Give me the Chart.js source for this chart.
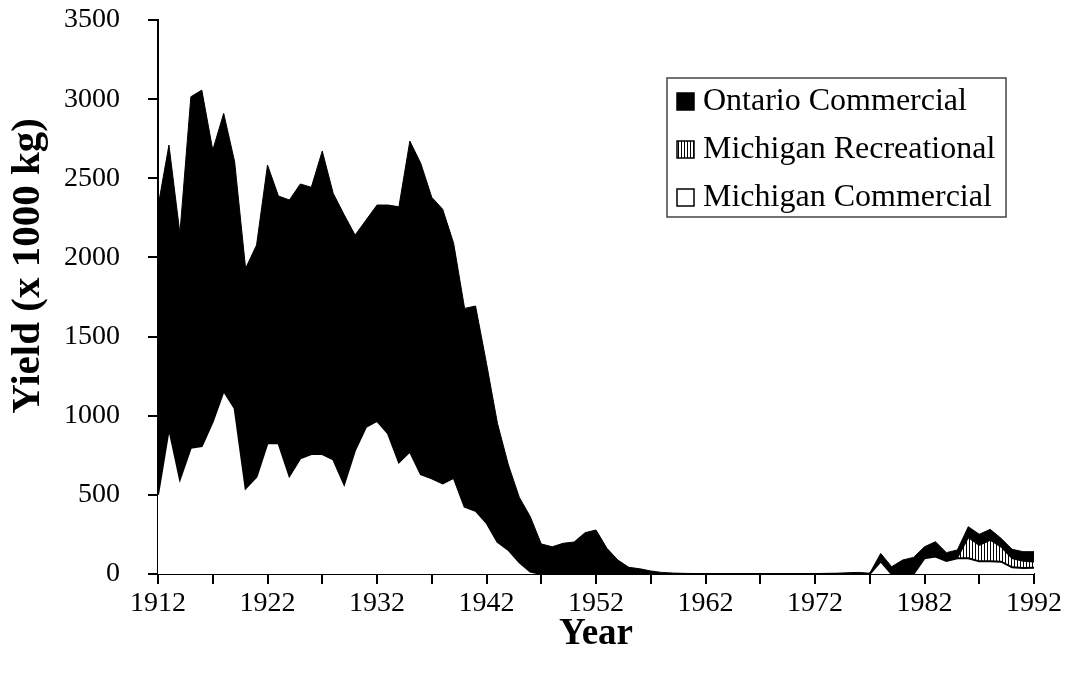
<!DOCTYPE html>
<html>
<head>
<meta charset="utf-8">
<script src="https://cdn.jsdelivr.net/npm/chart.js@4"></script>
<style>
  html, body { margin: 0; padding: 0; background: #fff; }
  #wrap { width: 1073px; height: 677px; }
</style>
</head>
<body>
<div id="wrap"><canvas id="yield_chart" width="1073" height="677"></canvas></div>
<script>
// years 1912..1992
const years = [];
for (let y = 1912; y <= 1992; y++) years.push(y);

const michiganCommercial = [
  500, 920, 598, 798, 808, 962, 1156, 1047, 541, 615,
  826, 826, 619, 731, 758, 758, 724, 568, 783, 930,
  968, 889, 706, 773, 630, 605, 573, 608, 425, 400,
  324, 204, 152, 74, 15,
  0, 0, 0, 0, 0, 0, 0, 0, 0, 0,
  0, 0, 0, 0, 0, 0, 0, 0, 0, 0,
  0, 0, 0, 0, 0, 0, 0, 0, 0, 0, 0,
  80, 0, 0, 0, 100, 110, 82, 99, 100, 80, 80, 78, 42, 38, 40
];

const michiganRecreational = [
  0, 0, 0, 0, 0, 0, 0, 0, 0, 0,
  0, 0, 0, 0, 0, 0, 0, 0, 0, 0,
  0, 0, 0, 0, 0, 0, 0, 0, 0, 0,
  0, 0, 0, 0, 0, 0, 0, 0, 0, 0,
  0, 0, 0, 0, 0, 0, 0, 0, 0, 0,
  0, 0, 0, 0, 0, 0, 0, 0, 0, 0,
  0, 0, 0, 0, 0, 0, 0, 0, 0, 0,
  0, 0, 0,
  5, 132, 103, 135, 94, 57, 44, 38
];

const ontarioCommercial = [
  1820, 1790, 1554, 2217, 2249, 1716, 1754, 1557, 1390, 1463,
  1758, 1562, 1744, 1733, 1685, 1914, 1681, 1702, 1358, 1306,
  1363, 1442, 1614, 1962, 1964, 1775, 1731, 1481, 1253, 1293,
  1006, 748, 537, 410, 347, 190, 172, 194, 202, 261,
  278, 162, 88, 42, 33, 19, 10, 6, 4, 3,
  3, 2, 2, 2, 2, 3, 2, 2, 2, 3,
  3, 4, 5, 8, 10, 5, 50, 46, 88, 105,
  72, 94, 53, 48, 67, 68, 67, 53, 57, 59, 63
];

const xTicks = [1912, 1917, 1922, 1927, 1932, 1937, 1942, 1947, 1952, 1957,
                1962, 1967, 1972, 1977, 1982, 1987, 1992];
const xLabels = [1912, 1922, 1932, 1942, 1952, 1962, 1972, 1982, 1992];

const yTitle = 'Yield (x 1000 kg)';

const serif = "'Liberation Serif', 'Times New Roman', serif";

// vertical hatch for the recreational band
function makeHatch() {
  const c = document.createElement('canvas');
  c.width = 3; c.height = 8;
  const g = c.getContext('2d');
  g.fillStyle = '#fff';
  g.fillRect(0, 0, 3, 8);
  g.fillStyle = '#000';
  g.fillRect(0, 0, 1, 8);
  return g.createPattern(c, 'repeat');
}
const hatch = makeHatch();

const toPoints = (vals) => vals.map((v, i) => ({x: years[i], y: v}));

// legend drawn inside the plot, boxed; y title sits a bit above centre
const boxLegend = {
  id: 'boxLegend',
  afterDraw(chart) {
    const ctx = chart.ctx;
    const left = 667, top = 78, right = 1006, bottom = 217;
    ctx.save();
    ctx.fillStyle = '#fff';
    ctx.fillRect(left, top, right - left, bottom - top);
    ctx.strokeStyle = '#444';
    ctx.lineWidth = 1.5;
    ctx.strokeRect(left, top, right - left, bottom - top);
    const items = chart.data.datasets.slice().reverse();
    const rows = [101, 149, 197];
    ctx.font = "32px " + serif;
    ctx.textBaseline = 'middle';
    items.forEach((ds, i) => {
      const cy = rows[i];
      ctx.fillStyle = ds.legendFill;
      ctx.fillRect(677, cy - 8, 17, 17);
      ctx.strokeStyle = '#000';
      ctx.lineWidth = 1.5;
      ctx.strokeRect(677, cy - 8, 17, 17);
      ctx.fillStyle = '#000';
      ctx.fillText(ds.label, 703, cy + 1);
    });

    ctx.translate(28, 266);
    ctx.rotate(-Math.PI / 2);
    ctx.font = "bold 41px " + serif;
    ctx.textAlign = 'center';
    ctx.textBaseline = 'middle';
    ctx.fillStyle = '#000';
    ctx.fillText(yTitle, 0, 0);
    ctx.restore();
  }
};

new Chart(document.getElementById('yield_chart'), {
  type: 'line',
  data: {
    datasets: [
      {
        label: 'Michigan Commercial',
        data: toPoints(michiganCommercial),
        fill: 'origin',
        backgroundColor: '#fff',
        legendFill: '#fff',
        borderColor: '#000',
        borderWidth: 2,
        pointRadius: 0,
        tension: 0
      },
      {
        label: 'Michigan Recreational',
        data: toPoints(michiganRecreational),
        fill: '-1',
        backgroundColor: hatch,
        legendFill: hatch,
        borderColor: '#000',
        borderWidth: 1.5,
        pointRadius: 0,
        tension: 0
      },
      {
        label: 'Ontario Commercial',
        data: toPoints(ontarioCommercial),
        fill: '-1',
        backgroundColor: '#000',
        legendFill: '#000',
        borderColor: '#000',
        borderWidth: 1,
        pointRadius: 0,
        tension: 0
      }
    ]
  },
  options: {
    responsive: false,
    animation: false,
    layout: { padding: { top: 0, right: 39, left: 0, bottom: 0 } },
    plugins: {
      legend: { display: false },
      tooltip: { enabled: false }
    },
    scales: {
      x: {
        type: 'linear',
        min: 1912,
        max: 1992,
        afterBuildTicks: (scale) => {
          scale.ticks = xTicks.map(v => ({value: v}));
        },
        afterFit: (scale) => { scale.height = 103; },
        border: { color: '#000', width: 2 },
        grid: {
          drawOnChartArea: false,
          color: '#000',
          lineWidth: 2,
          tickLength: 10
        },
        ticks: {
          color: '#000',
          padding: 3,
          maxRotation: 0,
          autoSkip: false,
          font: { family: serif, size: 28 },
          callback: (v) => xLabels.includes(v) ? String(v) : ''
        },
        title: {
          display: true,
          text: 'Year',
          color: '#000',
          padding: { top: 0, bottom: 20 },
          font: { family: serif, size: 37, weight: 'bold' }
        }
      },
      y: {
        stacked: true,
        min: 0,
        max: 3500,
        afterFit: (scale) => {
          scale.width = 158;
          scale.paddingTop = 20;
          scale.paddingBottom = 0;
        },
        border: { color: '#000', width: 2 },
        grid: {
          drawOnChartArea: false,
          color: '#000',
          lineWidth: 2,
          tickLength: 10
        },
        ticks: {
          stepSize: 500,
          color: '#000',
          padding: 28,
          font: { family: serif, size: 28 },
          callback: (v) => String(v)
        },
        title: { display: false }
      }
    }
  },
  plugins: [boxLegend]
});
</script>
</body>
</html>
